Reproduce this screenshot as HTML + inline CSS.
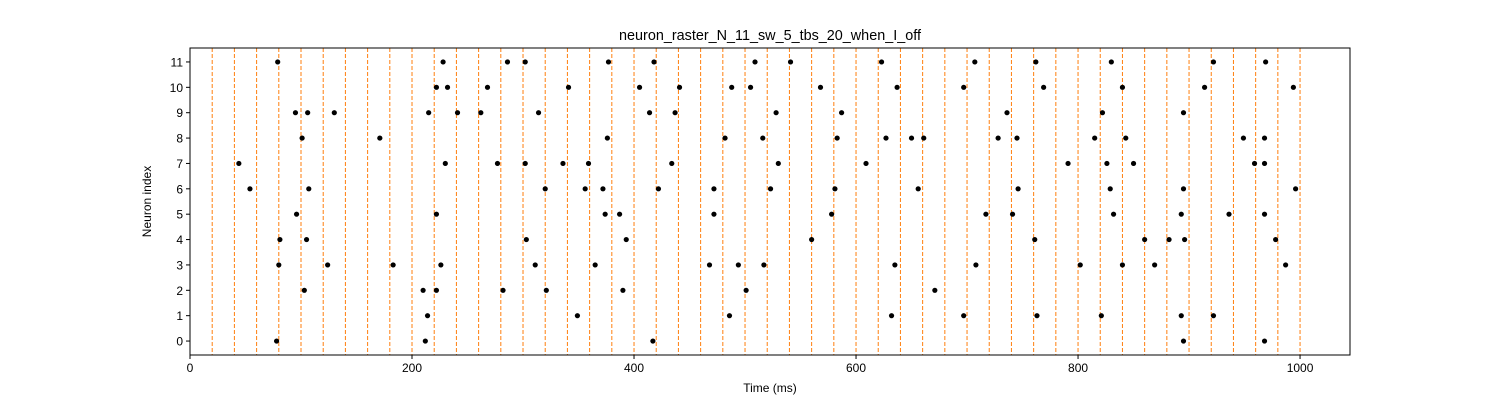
<!DOCTYPE html>
<html><head><meta charset="utf-8"><style>
html,body{margin:0;padding:0;background:#fff;}
svg{display:block;font-family:"Liberation Sans","DejaVu Sans",sans-serif;}
</style></head><body>
<svg id="chart" width="1500" height="400"></svg>
<script>
const xTicks=[0,200,400,600,800,1000];
const yTicks=[0,1,2,3,4,5,6,7,8,9,10,11];
const row0=[78,212,417,895,968];
const row1=[214,349,486,632,697,763,821,893,922];
const row2=[103,210,222,282,321,390,501,671];
const row3=[80,124,183,226,311,365,468,494,517,635,708,802,840,869,987];
const row4=[81,105,303,393,560,761,860,882,896,978];
const row5=[96,222,374,387,472,578,717,741,832,893,936,968];
const row6=[54,107,320,356,372,422,472,523,581,656,746,829,895,996];
const row7=[44,230,277,302,336,359,434,530,609,791,826,850,959,968];
const row8=[101,171,376,482,516,583,627,650,661,728,745,815,843,949,968];
const row9=[95,106,130,215,241,262,314,414,437,528,587,736,822,895];
const row10=[222,232,268,341,405,441,488,505,568,637,697,769,840,914,994];
const row11=[79,228,286,302,377,418,509,541,623,707,762,830,922,969];
const spikeRows=[row0,row1,row2,row3,row4,row5,row6,row7,row8,row9,row10,row11];
const binWidth=20, binEnd=1000;

const L=190,R=1350,T=48,B=355;
const xMin=0,xMax=1045,yMin=-0.55,yMax=11.55;
const sx=v=>L+(v-xMin)/(xMax-xMin)*(R-L);
const sy=v=>B-(v-yMin)/(yMax-yMin)*(B-T);
const svg=document.getElementById('chart');
const NS='http://www.w3.org/2000/svg';
function mk(tag,attrs,parent){const e=document.createElementNS(NS,tag);for(const k in attrs)e.setAttribute(k,attrs[k]);(parent||svg).appendChild(e);return e;}

for(let t=binWidth;t<=binEnd;t+=binWidth){
  const l=mk('line',{x1:sx(t),x2:sx(t),y1:T,y2:B,stroke:'#ff7f0e','stroke-width':1,'stroke-dasharray':'4,2'});
  
  
}
spikeRows.forEach((row,i)=>{
  row.forEach(t=>{
    const c=mk('circle',{cx:sx(t),cy:sy(i),r:2.6,fill:'#000'});
    
    
  });
});
const frame=mk('rect',{x:L,y:T,width:R-L,height:B-T,fill:'none',stroke:'#000','stroke-width':1});


xTicks.forEach(v=>{
  mk('line',{x1:sx(v),x2:sx(v),y1:B,y2:B+4,stroke:'#000'});
  const t=mk('text',{x:sx(v),y:B+17,'text-anchor':'middle','font-size':12});
  t.textContent=v;
  
  
});
yTicks.forEach(v=>{
  mk('line',{x1:L-4,x2:L,y1:sy(v),y2:sy(v),stroke:'#000'});
  const t=mk('text',{x:L-7,y:sy(v)+4.5,'text-anchor':'end','font-size':12});
  t.textContent=v;
  
  
});
const xt=mk('text',{x:(L+R)/2,y:B+37,'text-anchor':'middle','font-size':12});
xt.textContent='Time (ms)';


const yt=mk('text',{x:0,y:0,'text-anchor':'middle','font-size':12,transform:`translate(151,${(T+B)/2}) rotate(-90)`});
yt.textContent='Neuron index';


const ti=mk('text',{x:(L+R)/2,y:T-8,'text-anchor':'middle','font-size':14.4});
ti.textContent='neuron_raster_N_11_sw_5_tbs_20_when_I_off';


</script>
</body></html>
